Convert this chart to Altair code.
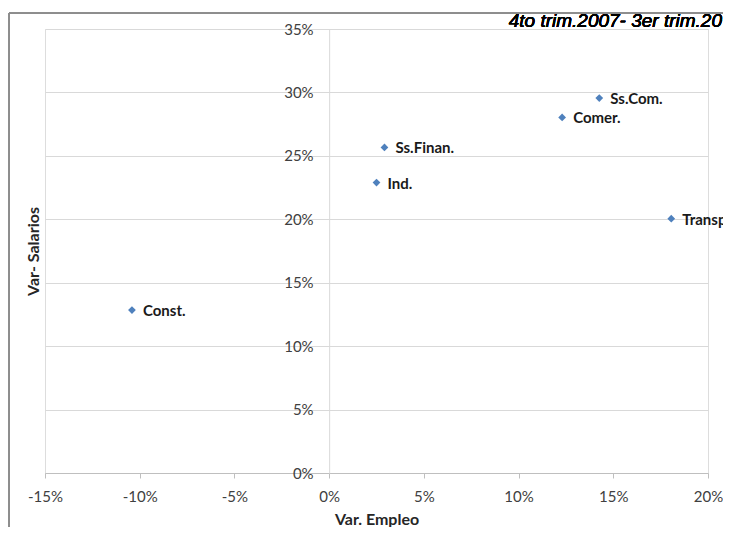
import altair as alt
import pandas as pd

# Data
sectores = ["Ss.Com.", "Comer.", "Ss.Finan.", "Ind.", "Transp", "Const."]
var_empleo = [0.1426, 0.1230, 0.0292, 0.0250, 0.1806, -0.1041]
var_salarios = [0.2956, 0.2803, 0.2566, 0.2289, 0.2005, 0.1284]

x_ticks = [-0.15, -0.10, -0.05, 0.0, 0.05, 0.10, 0.15, 0.20]
y_ticks = [0.0, 0.05, 0.10, 0.15, 0.20, 0.25, 0.30, 0.35]

titulo = "4to trim.2007- 3er trim.20"

df = pd.DataFrame({"sector": sectores, "empleo": var_empleo, "salarios": var_salarios})

W, H = 663, 444
zero_px = W * 0.15 / 0.35
label_expr = "(datum.value < 0 ? '-' : '') + format(abs(datum.value), '.0%')"

x_enc = alt.X(
    "empleo:Q",
    scale=alt.Scale(domain=[-0.15, 0.20], nice=False, zero=False),
    axis=alt.Axis(
        values=x_ticks, labelExpr=label_expr, grid=False,
        domainColor="#bfbfbf", tickColor="#bfbfbf", tickSize=5,
        labelPadding=11, labelFont="Lato", labelFontSize=15, labelColor="#404040",
        labelFlush=False, labelOverlap=False,
        title="Var. Empleo", titleFont="Lato", titleFontSize=16, titleFontWeight="bold",
        titleColor="#262626", titleY=46, titleBaseline="middle",
    ),
)
y_enc = alt.Y(
    "salarios:Q",
    scale=alt.Scale(domain=[0, 0.35], nice=False),
    axis=alt.Axis(
        values=y_ticks, labelExpr=label_expr, offset=-zero_px,
        ticks=False, tickSize=0, labelPadding=16,
        domainColor="#d9d9d9", gridColor="#d9d9d9",
        labelFont="Lato", labelFontSize=15, labelColor="#404040",
        labelFlush=False, labelOverlap=False,
        title="Var- Salarios", titleFont="Lato", titleFontSize=16, titleFontWeight="bold",
        titleColor="#262626", titleX=-12 - zero_px, titleY=H / 2, titleAngle=270,
        titleBaseline="middle", titleAlign="center",
    ),
)

base = alt.Chart(df)

points = base.mark_point(shape="diamond", filled=True, size=60, color="#4F81BD", opacity=1).encode(
    x=x_enc, y=y_enc
)
labels = base.mark_text(
    align="left", baseline="middle", dx=11, dy=1,
    font="Lato", fontSize=15, fontWeight="bold", color="#1a1a1a",
).encode(x="empleo:Q", y="salarios:Q", text="sector:N")

frame_left = alt.Chart(df).mark_rule(color="#8c8c8c", strokeWidth=1).encode(
    x=alt.value(-36), y=alt.value(-16), y2=alt.value(520)
)
frame_top = alt.Chart(df).mark_rule(color="#8c8c8c", strokeWidth=1).encode(
    x=alt.value(-36), x2=alt.value(680), y=alt.value(-16)
)
title_txt = alt.Chart(df).mark_text(
    align="right", baseline="alphabetic", font="Liberation Sans",
    fontStyle="italic", fontSize=19, color="#000000",
).encode(x=alt.value(677), y=alt.value(-2), text=alt.value(titulo))

chart = alt.layer(frame_left, frame_top, title_txt, points, labels).properties(
    width=W, height=H,
    autosize=alt.AutoSizeParams(type="none"),
    padding={"left": 37, "top": 21, "right": 15, "bottom": 54},
).configure_view(stroke=None).configure(background="white")

chart.save("out.html", embed_options={"renderer": "svg", "actions": False})
